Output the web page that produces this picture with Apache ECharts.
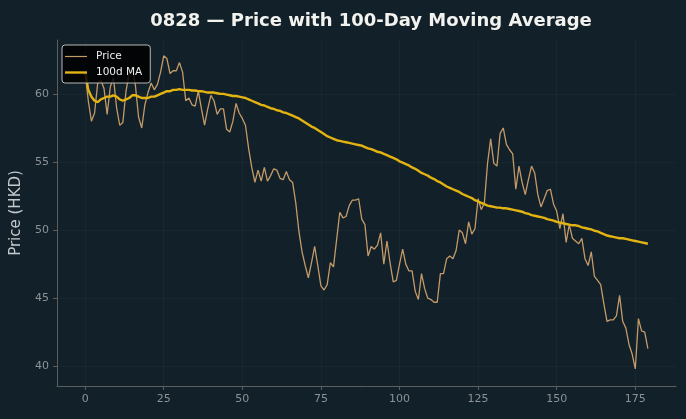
<!doctype html>
<html>
<head>
<meta charset="utf-8">
<script src="https://cdn.jsdelivr.net/npm/echarts@6/dist/echarts.min.js"></script>
<style>
  html, body { margin: 0; padding: 0; background: #112029; }
  #chart { width: 686px; height: 419px; }
</style>
</head>
<body>
<div id="chart"></div>
<script>
// daily closing price, day 0..179
var price = [
  61.6, 59.5, 58.0, 58.6, 60.8, 61.0, 60.4, 58.5, 60.5, 61.2,
  59.0, 57.7, 57.9, 60.2, 61.5, 62.0, 60.6, 58.3, 57.5, 59.2,
  60.1, 60.8, 60.3, 60.7, 61.6, 62.8, 62.6, 61.5, 61.7, 61.7,
  62.3, 61.6, 59.5, 59.7, 59.2, 59.1, 60.2, 58.9, 57.7, 58.9,
  59.9, 59.5, 58.5, 58.9, 58.9, 57.4, 57.2, 58.0, 59.3, 58.6,
  58.2, 57.7, 56.0, 54.6, 53.5, 54.4, 53.6, 54.6, 53.6, 54.0,
  54.5, 54.4, 53.8, 53.7, 54.3, 53.7, 53.5, 52.0, 49.9, 48.4,
  47.4, 46.5, 47.6, 48.8, 47.4, 45.9, 45.6, 46.0, 47.6, 47.3,
  49.3, 51.3, 50.9, 51.0, 51.8, 52.2, 52.2, 52.3, 50.8, 50.4,
  48.1, 48.8, 48.6, 48.9, 49.8, 47.5, 49.2, 47.6, 46.2, 46.3,
  47.5, 48.6, 47.5, 47.0, 47.0, 45.5, 44.9, 46.8, 45.7, 45.0,
  44.9, 44.7, 44.7, 46.8, 46.8, 47.9, 48.1, 47.9, 48.5, 50.0,
  49.8, 49.0, 50.6, 49.7, 50.1, 52.3, 51.5, 52.0, 54.9, 56.7,
  54.9, 54.7, 57.1, 57.5, 56.3, 55.9, 55.6, 53.0, 54.7, 53.5,
  52.6, 53.7, 54.7, 54.2, 52.6, 51.7, 52.3, 52.9, 53.0, 51.9,
  51.4, 50.1, 51.2, 49.1, 50.4, 49.4, 49.2, 49.0, 49.4, 47.9,
  47.4, 48.4, 46.6, 46.3, 46.0, 44.6, 43.3, 43.4, 43.4, 43.7,
  45.2, 43.3, 42.8, 41.6, 40.9, 39.8, 43.5, 42.6, 42.5, 41.3
];

// 100-day moving average as drawn
var ma100 = [
  61.6, 60.3, 59.8, 59.5, 59.4, 59.6, 59.7, 59.8, 59.8, 59.9,
  59.8, 59.6, 59.5, 59.6, 59.7, 59.9, 59.9, 59.8, 59.7, 59.7,
  59.7, 59.8, 59.8, 59.9, 60.0, 60.1, 60.2, 60.2, 60.3, 60.3,
  60.35, 60.3, 60.3, 60.3, 60.25, 60.25, 60.2, 60.2, 60.15, 60.1,
  60.1, 60.1, 60.05, 60.0, 60.0, 59.95, 59.9, 59.85, 59.85, 59.8,
  59.75, 59.7, 59.6, 59.5, 59.4, 59.3, 59.2, 59.15, 59.05, 58.95,
  58.9, 58.8, 58.75, 58.65, 58.6, 58.5, 58.4, 58.3, 58.2, 58.05,
  57.9, 57.75, 57.6, 57.5, 57.35, 57.2, 57.05, 56.9, 56.8, 56.7,
  56.6, 56.55, 56.5, 56.45, 56.4, 56.35, 56.3, 56.25, 56.2, 56.1,
  56.0, 55.95, 55.85, 55.75, 55.7, 55.6, 55.5, 55.4, 55.3, 55.2,
  55.05, 54.95, 54.85, 54.75, 54.6, 54.5, 54.35, 54.2, 54.1, 54.0,
  53.85, 53.75, 53.6, 53.5, 53.35, 53.2, 53.1, 53.0, 52.9, 52.8,
  52.65, 52.55, 52.45, 52.35, 52.2, 52.1, 52.0, 51.9, 51.8, 51.75,
  51.7, 51.65, 51.65, 51.6, 51.6, 51.55, 51.5, 51.45, 51.4, 51.35,
  51.25, 51.2, 51.1, 51.05, 51.0, 50.95, 50.9, 50.8, 50.75, 50.7,
  50.6, 50.55, 50.5, 50.45, 50.4, 50.35, 50.35, 50.3, 50.2, 50.15,
  50.1, 50.05, 49.95, 49.9, 49.8, 49.7, 49.6, 49.55, 49.5, 49.45,
  49.4, 49.4, 49.35, 49.3, 49.25, 49.2, 49.15, 49.1, 49.05, 49.0
];

var xTicks = [0, 25, 50, 75, 100, 125, 150, 175];
var yTicks = [40, 45, 50, 55, 60];

var font = 'DejaVu Sans';
var gridColor = 'rgba(255,255,255,0.03)';
var spineColor = '#5b5e5c';
var labelColor = '#8c9296';

// legend swatches: a bar centred in a 22x10 box, thin for price, thick for MA
var thinIcon = 'path://M0,0 L0,0 M0,4.4 L22,4.4 L22,5.6 L0,5.6 Z M22,10 L22,10';
var thickIcon = 'path://M0,0 L0,0 M0,3.8 L22,3.8 L22,6.2 L0,6.2 Z M22,10 L22,10';

function pairs(arr) {
  return arr.map(function (v, i) { return [i, v]; });
}

var chart = echarts.init(document.getElementById('chart'));
chart.setOption({
  backgroundColor: '#112029',
  animation: false,
  textStyle: { fontFamily: font },
  title: {
    text: '0828 — Price with 100-Day Moving Average',
    left: 366,
    textAlign: 'center',
    top: 7,
    textStyle: { color: '#f2f2ee', fontSize: 18, fontWeight: 'bold', fontFamily: font }
  },
  legend: {
    orient: 'vertical',
    left: 62,
    top: 45,
    padding: [6, 8, 5, 3],
    itemGap: 5,
    itemWidth: 24,
    itemHeight: 10,
    backgroundColor: 'rgba(0,0,0,0.85)',
    borderColor: '#b8b8b8',
    borderWidth: 1,
    borderRadius: 3,
    textStyle: { color: '#eeeeee', fontSize: 10.5, fontFamily: font, padding: [0, 0, 0, 3] },
    data: [
      { name: 'Price', icon: thinIcon },
      { name: '100d MA', icon: thickIcon }
    ]
  },
  grid: { left: 57, right: 10, top: 40, bottom: 33 },
  xAxis: {
    type: 'value',
    min: -8.95,
    max: 187.95,
    axisLine: { show: true, onZero: false, lineStyle: { color: spineColor, width: 1 } },
    axisTick: { show: true, customValues: xTicks, length: 4, lineStyle: { color: spineColor } },
    axisLabel: { customValues: xTicks, color: labelColor, fontSize: 11, margin: 8, fontFamily: font },
    splitLine: { show: true, lineStyle: { color: gridColor, width: 1 } }
  },
  yAxis: {
    type: 'value',
    min: 38.55,
    max: 63.96,
    name: 'Price (HKD)',
    nameLocation: 'middle',
    nameGap: 33,
    nameTextStyle: { color: '#c5c9cc', fontSize: 15, fontFamily: font },
    axisLine: { show: true, onZero: false, lineStyle: { color: spineColor, width: 1 } },
    axisTick: { show: true, customValues: yTicks, length: 4, lineStyle: { color: spineColor } },
    axisLabel: { customValues: yTicks, color: labelColor, fontSize: 11, margin: 8, fontFamily: font },
    splitLine: { show: true, lineStyle: { color: gridColor, width: 1 } }
  },
  series: [
    {
      name: 'Price',
      type: 'line',
      data: pairs(price),
      symbol: 'none',
      color: '#c49a68',
      lineStyle: { color: '#c49a68', width: 1.3 },
      z: 2
    },
    {
      name: '100d MA',
      type: 'line',
      data: pairs(ma100),
      symbol: 'none',
      color: '#e3b411',
      lineStyle: { color: '#e3b411', width: 2.4 },
      z: 3
    }
  ]
});
</script>
</body>
</html>
